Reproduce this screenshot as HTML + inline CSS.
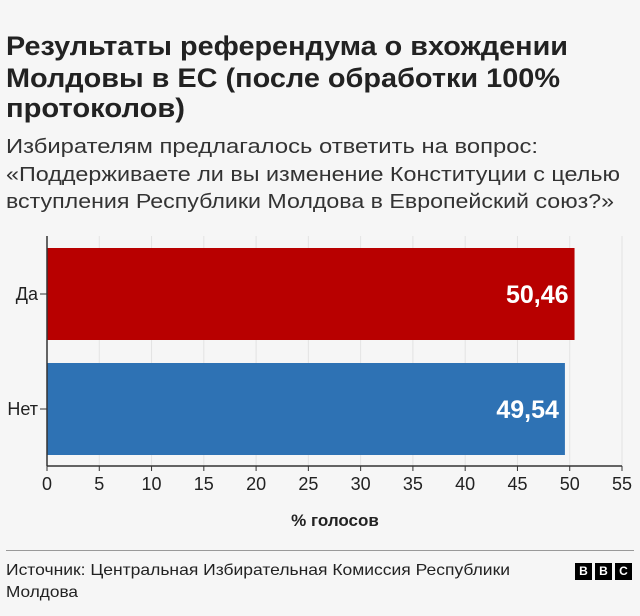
<!DOCTYPE html>
<html><head><meta charset="utf-8"><style>
body{margin:0;background:#f6f6f6;font-family:"Liberation Sans","Noto Sans CJK SC",sans-serif;color:#222;}
#wrap{position:relative;width:640px;height:616px;overflow:hidden;}
.rule{position:absolute;left:6px;right:6px;top:550px;height:1px;background:#999;}
.bbc{position:absolute;top:563px;width:17px;height:17px;background:#000;color:#fff;font-weight:bold;font-size:12px;text-align:center;line-height:17px;}
</style></head><body><div id="wrap">
<svg width="640" height="616" style="position:absolute;left:0;top:0" font-family="Liberation Sans, sans-serif">
<g font-size="27" font-weight="bold" fill="#222">
<text x="6" y="55" textLength="562" lengthAdjust="spacingAndGlyphs">Результаты референдума о вхождении</text>
<text x="6" y="87" textLength="554" lengthAdjust="spacingAndGlyphs">Молдовы в ЕС (после обработки 100%</text>
<text x="6" y="117" textLength="179" lengthAdjust="spacingAndGlyphs">протоколов)</text>
</g>
<g font-size="20" fill="#333">
<text x="6" y="153" textLength="532" lengthAdjust="spacingAndGlyphs">Избирателям предлагалось ответить на вопрос:</text>
<text x="6" y="181" textLength="614" lengthAdjust="spacingAndGlyphs">«Поддерживаете ли вы изменение Конституции с целью</text>
<text x="6" y="208" textLength="608" lengthAdjust="spacingAndGlyphs">вступления Республики Молдова в Европейский союз?»</text>
</g>
<g font-size="16" fill="#222">
<text x="6" y="575" textLength="504" lengthAdjust="spacingAndGlyphs">Источник: Центральная Избирательная Комиссия Республики</text>
<text x="6" y="597" textLength="72" lengthAdjust="spacingAndGlyphs">Молдова</text>
</g>
</svg>
<svg id="svg" width="640" height="616" style="position:absolute;left:0;top:0" font-family="Liberation Sans, sans-serif"></svg>
<div class="rule"></div>
<div class="bbc" style="left:575px">B</div>
<div class="bbc" style="left:595px">B</div>
<div class="bbc" style="left:615px">C</div>
</div>
<script>
const categories=["Да","Нет"];
const values=[50.46,49.54];
const labels=["50,46","49,54"];
const colors=["#b80000","#2e72b4"];
const ticks=[0,5,10,15,20,25,30,35,40,45,50,55];
const NS="http://www.w3.org/2000/svg";
const svg=document.getElementById('svg');
const x0=47,x1=622,xmax=55;
function xs(v){return x0+(x1-x0)*v/xmax;}
const top0=236,bandH=115,barH=92;
function yb(i){return 248+i*bandH;}
function mk(t,a,p){const e=document.createElementNS(NS,t);for(const k in a)e.setAttribute(k,a[k]);(p||svg).appendChild(e);return e;}
ticks.forEach(t=>{
 const g=mk('line',{x1:xs(t),x2:xs(t),y1:top0,y2:466,stroke:'#e3e3e3','stroke-width':1});
 
 
 const tk=mk('line',{x1:xs(t),x2:xs(t),y1:466,y2:471,stroke:'#333'});
 
 
 const tl=mk('text',{x:xs(t),y:490,'text-anchor':'middle','font-size':18,fill:'#222'});
 tl.textContent=t;
 
 
});
values.forEach((v,i)=>{
 const r=mk('rect',{x:x0,y:yb(i),width:xs(v)-x0,height:barH,fill:colors[i]});
 
 
 const t=mk('text',{x:xs(v)-6,y:yb(i)+barH/2+9,'text-anchor':'end','font-size':25,'font-weight':'bold',fill:'#fff'});
 t.textContent=labels[i];
 
 
 const c=mk('text',{x:38,y:yb(i)+barH/2+6,'text-anchor':'end','font-size':18,fill:'#222'});
 c.textContent=categories[i];
 
 
 const ct=mk('line',{x1:40,x2:47,y1:yb(i)+barH/2,y2:yb(i)+barH/2,stroke:'#333'});
 
 
});
const ya=mk('line',{x1:x0,x2:x0,y1:top0,y2:466,stroke:'#333','stroke-width':1.5});


const xa=mk('line',{x1:x0,x2:x1,y1:466,y2:466,stroke:'#333','stroke-width':1.5});


const at=mk('text',{x:335,y:526,'text-anchor':'middle','font-size':17,'font-weight':'bold',fill:'#222'});
at.textContent='% голосов';


</script></body></html>
